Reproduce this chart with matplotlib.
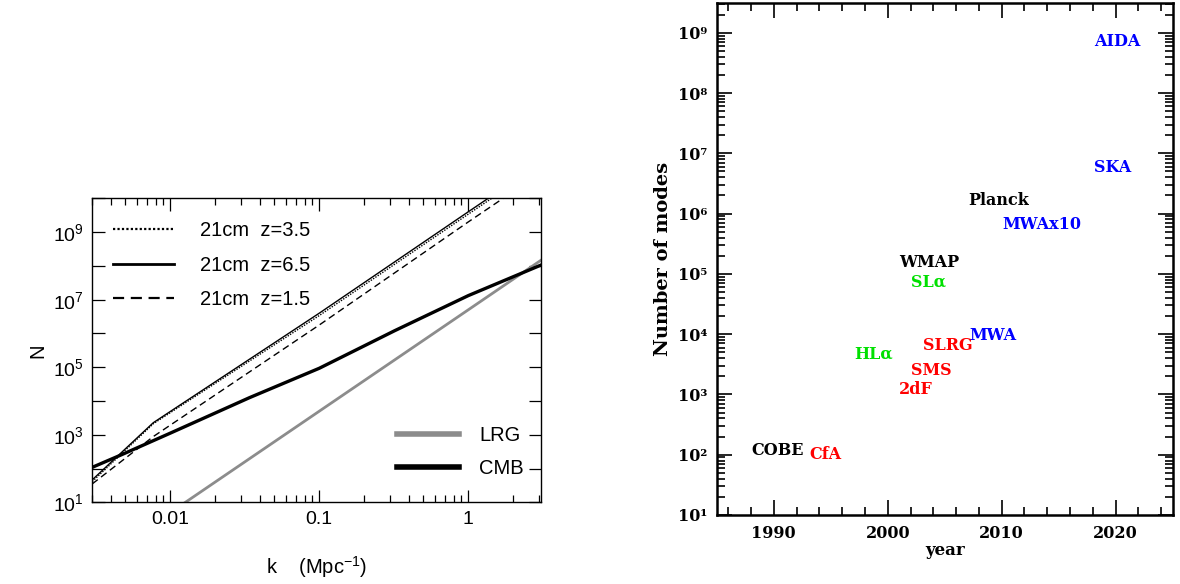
import numpy as np
import matplotlib
matplotlib.use("Agg")
import matplotlib.pyplot as plt
from matplotlib.ticker import LogLocator, FuncFormatter, MultipleLocator, NullFormatter, NullLocator

# ---- left panel: number of modes vs k ----
k_cmb = [0.003, 0.0047, 0.01, 0.034, 0.1, 0.32, 1.0, 3.06]
logN_cmb = [2.04, 2.41, 3.05, 4.1, 4.97, 6.08, 7.12, 8.02]

k_lrg = [0.0126, 0.1, 1.0, 3.06]
logN_lrg = [1.0, 3.7, 6.7, 8.16]

k_21 = [0.003, 0.0077, 0.1, 1.0, 3.06]
logN_z65 = [1.67, 3.36, 6.6, 9.6, 11.05]
logN_z35 = [1.62, 3.33, 6.53, 9.53, 10.98]
logN_z15 = [1.55, 2.95, 6.25, 9.3, 10.75]

# ---- right panel: surveys by year ----
names = ['COBE', 'CfA', 'HLα', '2dF', 'SMS', 'SLRG', 'WMAP', 'SLα',
         'MWA', 'Planck', 'MWAx10', 'SKA', 'AIDA']
years = [1988.0, 1993.1, 1997.1, 2001.0, 2002.0, 2003.1, 2001.0, 2002.0,
         2007.2, 2007.1, 2010.1, 2018.1, 2018.1]
logN_modes = [2.07, 2.0, 3.67, 3.08, 3.39, 3.82, 5.19, 4.87,
              3.97, 6.21, 5.82, 6.77, 8.85]
colors = ['black', 'red', '#00e000', 'red', 'red', 'red', 'black', '#00e000',
          'blue', 'black', 'blue', 'blue', 'blue']

fig = plt.figure(figsize=(11.8, 5.84), dpi=100)

# left axes
sans = 'Liberation Sans'
ax1 = fig.add_axes([0.0782, 0.1396, 0.38, 0.5209])
l35, = ax1.plot(k_21, 10 ** np.array(logN_z35), color='black', lw=1.0, ls=(0, (1, 1)))
l65, = ax1.plot(k_21, 10 ** np.array(logN_z65), color='black', lw=1.0)
l15, = ax1.plot(k_21, 10 ** np.array(logN_z15), color='black', lw=1.0, ls=(0, (5, 3)))
llrg, = ax1.plot(k_lrg, 10 ** np.array(logN_lrg), color='#8c8c8c', lw=2.0)
lcmb, = ax1.plot(k_cmb, 10 ** np.array(logN_cmb), color='black', lw=2.4)
ax1.set_xscale('log')
ax1.set_yscale('log')
ax1.set_xlim(0.003, 3.06)
ax1.set_ylim(10, 1e10)

ax1.xaxis.set_major_locator(LogLocator(base=10, numticks=10))
ax1.xaxis.set_minor_locator(LogLocator(base=10, subs=np.arange(2, 10), numticks=20))
ax1.xaxis.set_major_formatter(FuncFormatter(lambda v, p: '{:g}'.format(v)))
ax1.xaxis.set_minor_formatter(NullFormatter())
ax1.yaxis.set_major_locator(LogLocator(base=10, numticks=20))
ax1.yaxis.set_minor_locator(NullLocator())
ax1.yaxis.set_major_formatter(FuncFormatter(
    lambda v, p: '$\\mathdefault{10^{%d}}$' % round(np.log10(v)) if round(np.log10(v)) % 2 == 1 else ''))
ax1.tick_params(which='both', direction='in', top=True, right=True, width=0.9, labelsize=14, pad=6)
ax1.tick_params(which='major', length=9)
ax1.tick_params(which='minor', length=5)
for lab in ax1.get_xticklabels() + ax1.get_yticklabels():
    lab.set_family(sans)
for s in ax1.spines.values():
    s.set_linewidth(1.0)
ax1.set_xlabel('k    (Mpc$^{\\mathdefault{-1}}$)', family=sans, fontsize=14.5, labelpad=19)
ax1.set_ylabel('N', family=sans, fontsize=14.5, labelpad=4)

leg1 = ax1.legend([l35, l65, l15], ['21cm  z=3.5', '21cm  z=6.5', '21cm  z=1.5'],
                  loc='upper left', frameon=False, prop={'family': sans, 'size': 14.5},
                  handlelength=3.0, handletextpad=1.3, labelspacing=0.78,
                  borderaxespad=0.2, bbox_to_anchor=(0.02, 0.965))
leg1.legend_handles[1].set_linewidth(2.0)
leg1.legend_handles[0].set_linewidth(1.6)
leg1.legend_handles[2].set_linewidth(1.6)
ax1.add_artist(leg1)
leg2 = ax1.legend([llrg, lcmb], ['LRG', 'CMB'], loc='lower right', frameon=False,
                  prop={'family': sans, 'size': 14.5}, handlelength=3.1,
                  handletextpad=1.0, labelspacing=0.7, bbox_to_anchor=(0.99, 0.04),
                  borderaxespad=0.2)
for h in leg2.legend_handles:
    h.set_linewidth(4.0)

# right axes
serif = 'DejaVu Serif'
sup = str.maketrans('0123456789-', '⁰¹²³⁴⁵⁶⁷⁸⁹⁻')
ax2 = fig.add_axes([0.6074, 0.1182, 0.3864, 0.8762])
ax2.set_yscale('log')
ax2.set_xlim(1985, 2025)
ax2.set_ylim(10, 10 ** 9.49)
for name, yr, lg, c in zip(names, years, logN_modes, colors):
    ax2.text(yr, 10 ** lg, name, color=c, ha='left', va='center',
             family=serif, fontweight='bold', fontsize=11.5)
ax2.xaxis.set_major_locator(MultipleLocator(10))
ax2.xaxis.set_minor_locator(MultipleLocator(2))
ax2.yaxis.set_major_locator(LogLocator(base=10, numticks=20))
ax2.yaxis.set_minor_locator(LogLocator(base=10, subs=np.arange(2, 10), numticks=20))
ax2.yaxis.set_major_formatter(FuncFormatter(
    lambda v, p: '10' + str(int(round(np.log10(v)))).translate(sup)))
ax2.yaxis.set_minor_formatter(NullFormatter())
ax2.tick_params(which='both', direction='in', top=True, right=True, width=1.2,
                labelsize=11.5, pad=7)
ax2.tick_params(which='major', length=11)
ax2.tick_params(which='minor', length=5.5)
for lab in ax2.get_xticklabels() + ax2.get_yticklabels():
    lab.set_family(serif)
    lab.set_fontweight('bold')
for s in ax2.spines.values():
    s.set_linewidth(1.8)
ax2.set_xlabel('year', family=serif, fontweight='bold', fontsize=12, labelpad=0)
ax2.set_ylabel('Number of modes', family=serif, fontweight='bold', fontsize=14, labelpad=4)

fig.savefig('out.png', dpi=100)
